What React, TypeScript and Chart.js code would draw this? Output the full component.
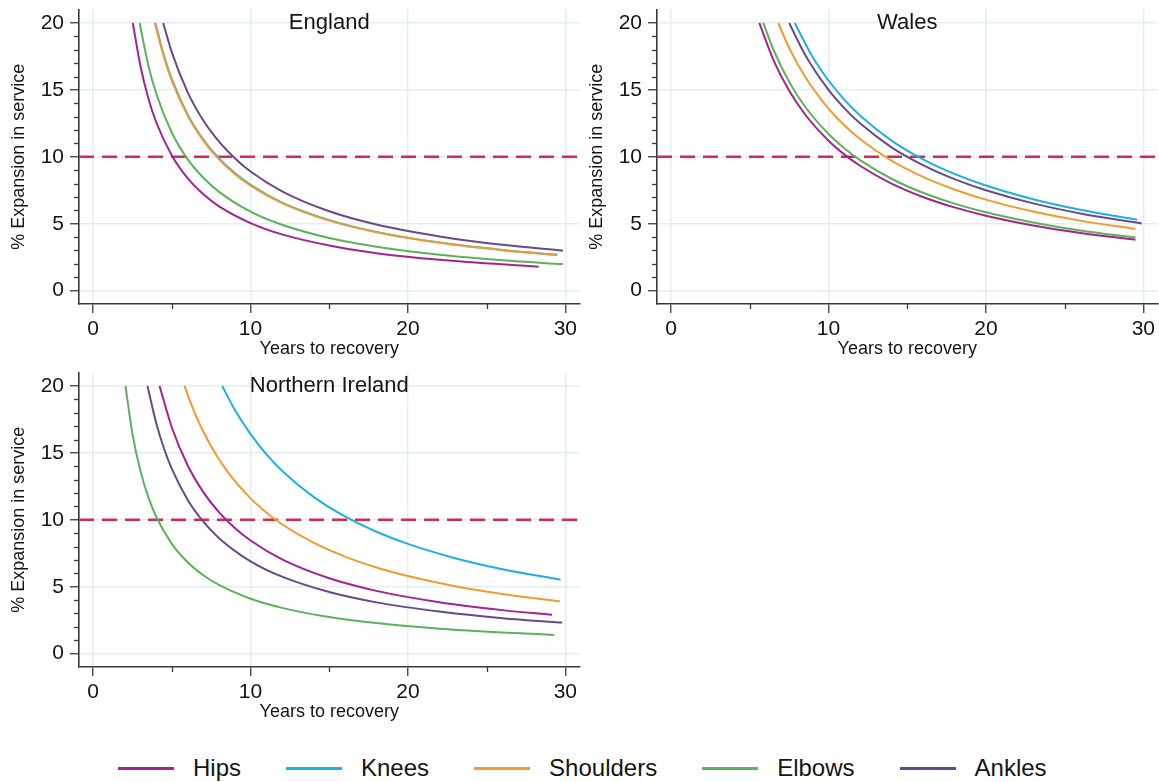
import React, { useEffect, useRef } from 'react';
import { Chart, registerables } from 'chart.js';
Chart.register(...registerables);

// ---------- data ----------
const seriesNames = ['Hips', 'Knees', 'Shoulders', 'Elbows', 'Ankles'];
const seriesColors = ['#a3238f', '#1db0e6', '#f39a2e', '#5db15a', '#69498b'];
const seriesOrder = [1, 3, 2, 4, 5];

const panelTitles = ['England', 'Wales', 'Northern Ireland'];
const xTicks = [0, 10, 20, 30];
const xMinorTicks = [5, 15, 25];
const yTicks = [0, 5, 10, 15, 20];
const yMinorTicks = [1, 2, 3, 4, 6, 7, 8, 9, 11, 12, 13, 14, 16, 17, 18, 19];
const xRange = [-0.9, 30.9];
const yRange = [-1, 21];
const thresholdValue = 10;

// England
const englandHipsX = [2.52, 3, 3.5, 4, 5, 6, 7, 8, 10, 12, 15, 18, 22, 28.3];
const englandHipsY = [20, 16.8, 14.4, 12.6, 10.1, 8.4, 7.2, 6.3, 5.05, 4.2, 3.37, 2.8, 2.3, 1.78];
const englandKneesX = [3.95, 4.5, 5, 6, 7, 8, 9, 10, 12, 15, 18, 22, 26, 29.5];
const englandKneesY = [20, 17.55, 15.8, 13.17, 11.29, 9.88, 8.78, 7.9, 6.58, 5.27, 4.39, 3.59, 3.04, 2.68];
const englandShouldersX = [3.92, 4.5, 5, 6, 7, 8, 9, 10, 12, 15, 18, 22, 26, 29.4];
const englandShouldersY = [20, 17.44, 15.7, 13.08, 11.21, 9.81, 8.72, 7.85, 6.54, 5.23, 4.36, 3.57, 3.02, 2.67];
const englandElbowsX = [2.95, 3.5, 4, 5, 6, 7, 8, 10, 12, 15, 18, 22, 26, 29.85];
const englandElbowsY = [20, 16.86, 14.75, 11.8, 9.83, 8.43, 7.38, 5.9, 4.92, 3.93, 3.28, 2.68, 2.27, 1.98];
const englandAnklesX = [4.45, 5, 6, 7, 8, 9, 10, 12, 15, 18, 22, 26, 29.85];
const englandAnklesY = [20, 17.8, 14.83, 12.71, 11.13, 9.89, 8.9, 7.42, 5.93, 4.94, 4.05, 3.42, 2.98];

// Wales
const walesHipsX = [5.6, 6.5, 7.5, 8.5, 10, 11, 12, 14, 16, 18, 20, 23, 26, 29.5];
const walesHipsY = [20, 17.23, 14.93, 13.18, 11.2, 10.18, 9.33, 8.0, 7.0, 6.22, 5.6, 4.87, 4.31, 3.8];
const walesKneesX = [7.85, 9, 10, 11, 12, 14, 16, 18, 20, 23, 26, 29.6];
const walesKneesY = [20, 17.44, 15.7, 14.27, 13.08, 11.21, 9.81, 8.72, 7.85, 6.83, 6.04, 5.3];
const walesShouldersX = [6.8, 7.5, 8.5, 10, 11, 12, 14, 16, 18, 20, 23, 26, 29.5];
const walesShouldersY = [20, 18.13, 16.0, 13.6, 12.36, 11.33, 9.71, 8.5, 7.56, 6.8, 5.91, 5.23, 4.61];
const walesElbowsX = [5.85, 6.5, 7.5, 8.5, 10, 11, 12, 14, 16, 18, 20, 23, 26, 29.5];
const walesElbowsY = [20, 18.0, 15.6, 13.76, 11.7, 10.64, 9.75, 8.36, 7.31, 6.5, 5.85, 5.09, 4.5, 3.97];
const walesAnklesX = [7.5, 8.5, 10, 11, 12, 14, 16, 18, 20, 23, 26, 29.9];
const walesAnklesY = [20, 17.65, 15.0, 13.64, 12.5, 10.71, 9.38, 8.33, 7.5, 6.52, 5.77, 5.02];

// Northern Ireland
const niHipsX = [4.22, 5, 6, 7, 8, 9, 10, 12, 15, 18, 22, 26, 29.15];
const niHipsY = [20, 16.9, 14.08, 12.07, 10.56, 9.39, 8.45, 7.04, 5.63, 4.69, 3.84, 3.25, 2.9];
const niKneesX = [8.2, 9, 10, 11, 12, 14, 16, 18, 20, 23, 26, 29.7];
const niKneesY = [20, 18.22, 16.4, 14.91, 13.67, 11.71, 10.25, 9.11, 8.2, 7.13, 6.31, 5.52];
const niShouldersX = [5.8, 6.5, 7.5, 8.5, 10, 11, 12, 14, 16, 18, 20, 23, 26, 29.65];
const niShouldersY = [20, 17.85, 15.47, 13.65, 11.6, 10.55, 9.67, 8.29, 7.25, 6.44, 5.8, 5.04, 4.46, 3.91];
const niElbowsX = [2.05, 2.5, 3, 3.5, 4, 5, 6, 7, 8, 10, 12, 15, 18, 22, 26, 29.3];
const niElbowsY = [20, 16.4, 13.67, 11.71, 10.25, 8.2, 6.83, 5.86, 5.13, 4.1, 3.42, 2.73, 2.28, 1.86, 1.58, 1.4];
const niAnklesX = [3.45, 4, 4.5, 5, 6, 7, 8, 10, 12, 15, 18, 22, 26, 29.8];
const niAnklesY = [20, 17.25, 15.33, 13.8, 11.5, 9.86, 8.63, 6.9, 5.75, 4.6, 3.83, 3.14, 2.65, 2.32];

const panelXs = [
  [englandHipsX, englandKneesX, englandShouldersX, englandElbowsX, englandAnklesX],
  [walesHipsX, walesKneesX, walesShouldersX, walesElbowsX, walesAnklesX],
  [niHipsX, niKneesX, niShouldersX, niElbowsX, niAnklesX],
];
const panelYs = [
  [englandHipsY, englandKneesY, englandShouldersY, englandElbowsY, englandAnklesY],
  [walesHipsY, walesKneesY, walesShouldersY, walesElbowsY, walesAnklesY],
  [niHipsY, niKneesY, niShouldersY, niElbowsY, niAnklesY],
];

// ---------- styling ----------
const FONT = "'Liberation Sans', Arial, Helvetica, sans-serif";
const AXIS = '#3a3a3a';
const GRID = '#e4edef';
const TEXT = '#141414';
const THRESH = '#d42a4e';

const CANVAS_W = 581;
const CANVAS_H = 371;

const panelDecor = {
  id: 'panelDecor',
  afterDraw(chart: any, _args: any, opts: any) {
    const { ctx, chartArea, scales } = chart;
    const xs = scales.x;
    const ys = scales.y;
    ctx.save();
    ctx.strokeStyle = AXIS;
    ctx.lineWidth = 1.3;
    for (const v of yMinorTicks) {
      const py = Math.round(ys.getPixelForValue(v)) + 0.5;
      ctx.beginPath();
      ctx.moveTo(chartArea.left - 5, py);
      ctx.lineTo(chartArea.left, py);
      ctx.stroke();
    }
    for (const v of xMinorTicks) {
      const px = Math.round(xs.getPixelForValue(v)) + 0.5;
      ctx.beginPath();
      ctx.moveTo(px, chartArea.bottom);
      ctx.lineTo(px, chartArea.bottom + 5);
      ctx.stroke();
    }
    ctx.font = `22px ${FONT}`;
    ctx.fillStyle = TEXT;
    ctx.textAlign = 'center';
    ctx.textBaseline = 'alphabetic';
    ctx.fillText(opts.text, (chartArea.left + chartArea.right) / 2, chartArea.top + 19.5);
    ctx.restore();
  },
};

function Panel({ idx, left, top }: { idx: number; left: number; top: number }) {
  const ref = useRef<HTMLCanvasElement | null>(null);
  useEffect(() => {
    if (!ref.current) return;
    const datasets: any[] = seriesNames.map((name, s) => ({
      label: name,
      data: panelXs[idx][s].map((x, i) => ({ x, y: panelYs[idx][s][i] })),
      showLine: true,
      borderColor: seriesColors[s],
      backgroundColor: seriesColors[s],
      borderWidth: 2,
      pointRadius: 0,
      cubicInterpolationMode: 'monotone',
      fill: false,
      order: seriesOrder[s],
    }));
    datasets.push({
      label: 'threshold',
      data: [
        { x: xRange[0], y: thresholdValue },
        { x: xRange[1], y: thresholdValue },
      ],
      showLine: true,
      borderColor: THRESH,
      borderWidth: 2.5,
      borderDash: [15, 8],
      pointRadius: 0,
      fill: false,
      order: 10,
    });
    const chart = new Chart(ref.current, {
      type: 'scatter',
      data: { datasets },
      plugins: [panelDecor as any],
      options: {
        responsive: false,
        maintainAspectRatio: false,
        animation: false,
        events: [],
        layout: { autoPadding: false, padding: { top: 8, left: 0, right: 0, bottom: 0 } },
        plugins: {
          legend: { display: false },
          tooltip: { enabled: false },
          title: { display: false },
          panelDecor: { text: panelTitles[idx] },
        } as any,
        scales: {
          x: {
            type: 'linear',
            min: xRange[0],
            max: xRange[1],
            afterBuildTicks: (s: any) => {
              s.ticks = xTicks.map((v) => ({ value: v }));
            },
            afterFit: (s: any) => {
              s.height = 58;
            },
            ticks: {
              font: { family: FONT, size: 21 },
              color: TEXT,
              padding: 4,
              maxRotation: 0,
              autoSkip: false,
            },
            grid: {
              color: GRID,
              lineWidth: 1.5,
              tickLength: 9,
              tickColor: AXIS,
              tickWidth: 1.3,
            },
            border: { color: AXIS, width: 1.6 },
            title: {
              display: true,
              text: 'Years to recovery',
              font: { family: FONT, size: 18 },
              color: TEXT,
              padding: { top: 0, bottom: 2 },
            },
          },
          y: {
            type: 'linear',
            min: yRange[0],
            max: yRange[1],
            afterBuildTicks: (s: any) => {
              s.ticks = yTicks.map((v) => ({ value: v }));
            },
            afterFit: (s: any) => {
              s.width = 79;
            },
            ticks: {
              font: { family: FONT, size: 21 },
              color: TEXT,
              padding: 6,
            },
            grid: {
              color: GRID,
              lineWidth: 1.5,
              tickLength: 9,
              tickColor: AXIS,
              tickWidth: 1.3,
            },
            border: { color: AXIS, width: 1.6 },
            title: {
              display: true,
              text: '% Expansion in service',
              font: { family: FONT, size: 18 },
              color: TEXT,
              padding: { top: 8, bottom: 0 },
            },
          },
        },
      } as any,
    });
    return () => chart.destroy();
  }, [idx]);
  return (
    <canvas
      ref={ref}
      width={CANVAS_W}
      height={CANVAS_H}
      style={{ position: 'absolute', left, top, width: CANVAS_W, height: CANVAS_H, display: 'block' }}
    />
  );
}

function Legend() {
  return (
    <div
      style={{
        position: 'absolute',
        left: 118,
        top: 753,
        height: 30,
        display: 'flex',
        alignItems: 'center',
        gap: 45,
        fontFamily: FONT,
        fontSize: 24,
        lineHeight: '30px',
        color: TEXT,
        whiteSpace: 'nowrap',
      }}
    >
      {seriesNames.map((name, s) => (
        <div key={name} style={{ display: 'flex', alignItems: 'center' }}>
          <div style={{ width: 56, height: 3, background: seriesColors[s], marginRight: 19 }} />
          <span>{name}</span>
        </div>
      ))}
    </div>
  );
}

export default function App() {
  return (
    <div
      style={{
        position: 'absolute',
        left: 0,
        top: 0,
        width: 1159,
        height: 782,
        background: '#ffffff',
        overflow: 'hidden',
      }}
    >
      <Panel idx={0} left={0} top={-9} />
      <Panel idx={1} left={578} top={-9} />
      <Panel idx={2} left={0} top={353.5} />
      <Legend />
    </div>
  );
}
